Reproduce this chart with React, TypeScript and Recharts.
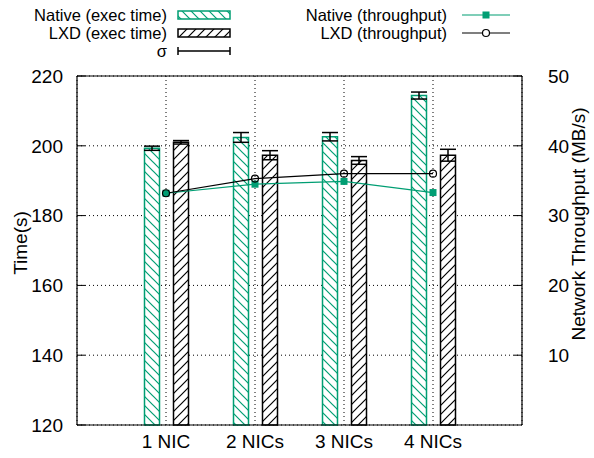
import React from "react";
import {
  ComposedChart,
  Bar,
  Line,
  XAxis,
  YAxis,
  CartesianGrid,
  ErrorBar,
  ReferenceLine,
} from "recharts";

const categories = ["1 NIC", "2 NICs", "3 NICs", "4 NICs"];
const nativeTime = [199.3, 202.4, 202.6, 214.4];
const nativeTimeErr = [0.6, 1.4, 1.2, 1.0];
const lxdTime = [201.0, 197.3, 195.8, 197.3];
const lxdTimeErr = [0.5, 1.3, 1.1, 1.7];
const nativeThroughput = [33.2, 34.5, 34.9, 33.3];
const lxdThroughput = [33.2, 35.3, 36.0, 36.0];

const timeTicks = [120, 140, 160, 180, 200, 220];
const throughputTicks = [10, 20, 30, 40, 50];

const GREEN = "#009E73";
const FONT = "'Liberation Sans', Arial, sans-serif";
const FS = 19;
const LEGEND_FS = 16.5;

const data = categories.map((name, i) => ({
  name,
  nativeTime: nativeTime[i],
  nativeTimeErr: nativeTimeErr[i],
  lxdTime: lxdTime[i],
  lxdTimeErr: lxdTimeErr[i],
  nativeTp: nativeThroughput[i],
  lxdTp: lxdThroughput[i],
}));

function Hatches({ prefix }: { prefix: string }) {
  return (
    <defs>
      <pattern id={prefix + "native"} width={9} height={9} patternUnits="userSpaceOnUse">
        <rect width={9} height={9} fill="#fff" />
        <path d="M0,0 L9,9 M-1,8 L1,10 M8,-1 L10,1" stroke={GREEN} strokeWidth={1.2} />
      </pattern>
      <pattern id={prefix + "lxd"} width={9} height={9} patternUnits="userSpaceOnUse">
        <rect width={9} height={9} fill="#fff" />
        <path d="M0,9 L9,0 M-1,1 L1,-1 M8,10 L10,8" stroke="#000" strokeWidth={1.2} />
      </pattern>
    </defs>
  );
}

const SquareDot = (props: any) => {
  const { cx, cy, index } = props;
  return <rect key={"s" + index} x={cx - 3.5} y={cy - 3.5} width={7} height={7} fill={GREEN} />;
};

const CircleDot = (props: any) => {
  const { cx, cy, index } = props;
  return <circle key={"c" + index} cx={cx} cy={cy} r={3.5} fill="none" stroke="#000" strokeWidth={1.2} />;
};

function Overlay() {
  const t = { fontFamily: FONT, fontSize: FS, fill: "#000" } as const;
  const lt = { fontFamily: FONT, fontSize: LEGEND_FS, fill: "#000" } as const;
  return (
    <svg
      width={594}
      height={458}
      style={{ position: "absolute", left: 0, top: 0, pointerEvents: "none" }}
    >
      <Hatches prefix="lg-" />
      <text x={167} y={15} textAnchor="end" dominantBaseline="central" {...lt}>
        Native (exec time)
      </text>
      <rect x={178} y={11} width={52} height={8} fill="url(#lg-native)" stroke={GREEN} strokeWidth={1.5} />
      <text x={167} y={33} textAnchor="end" dominantBaseline="central" {...lt}>
        LXD (exec time)
      </text>
      <rect x={178} y={29} width={52} height={8} fill="url(#lg-lxd)" stroke="#000" strokeWidth={1.5} />
      <text x={167} y={51} textAnchor="end" dominantBaseline="central" {...lt}>
        σ
      </text>
      <path d="M178,51 L230,51 M178,47 L178,55 M230,47 L230,55" stroke="#000" strokeWidth={1.5} />

      <text x={447} y={15} textAnchor="end" dominantBaseline="central" {...lt}>
        Native (throughput)
      </text>
      <line x1={462} y1={15} x2={510} y2={15} stroke={GREEN} strokeWidth={1.2} />
      <rect x={482.5} y={11.5} width={7} height={7} fill={GREEN} />
      <text x={447} y={33} textAnchor="end" dominantBaseline="central" {...lt}>
        LXD (throughput)
      </text>
      <line x1={462} y1={33} x2={510} y2={33} stroke="#000" strokeWidth={1.2} />
      <circle cx={486} cy={33} r={3.5} fill="#fff" stroke="#000" strokeWidth={1.2} />

      <text
        x={20}
        y={243}
        textAnchor="middle"
        dominantBaseline="central"
        transform="rotate(-90 20 243)"
        {...t}
      >
        Time(s)
      </text>
      <text
        x={578}
        y={224}
        textAnchor="middle"
        dominantBaseline="central"
        transform="rotate(-90 578 224)"
        {...t}
      >
        Network Throughput (MB/s)
      </text>
    </svg>
  );
}

export default function App() {
  const tick = { fontFamily: FONT, fontSize: FS, fill: "#000" };
  return (
    <div style={{ position: "absolute", left: 0, top: 0, width: 594, height: 458, background: "#fff" }}>
      <ComposedChart
        width={594}
        height={458}
        data={data}
        margin={{ top: 76, right: 0, bottom: 0, left: 0 }}
        barGap={14}
        barSize={15}
      >
        <Hatches prefix="ch-" />
        <CartesianGrid yAxisId="left" stroke="#000" strokeDasharray="1 3" strokeWidth={1} />
        <XAxis
          dataKey="name"
          height={33}
          padding={{ left: 44.5, right: 44.5 }}
          tickLine={false}
          tickMargin={4}
          axisLine={{ stroke: "#000", strokeWidth: 1.2 }}
          tick={tick}
          interval={0}
        />
        <YAxis
          yAxisId="left"
          orientation="left"
          width={77}
          domain={[120, 220]}
          ticks={timeTicks}
          tickSize={-8}
          tickMargin={22}
          tickLine={{ stroke: "#000" }}
          axisLine={{ stroke: "#000", strokeWidth: 1.2 }}
          tick={tick}
          interval={0}
        />
        <YAxis
          yAxisId="right"
          orientation="right"
          width={72}
          domain={[0, 50]}
          ticks={throughputTicks}
          tickSize={-8}
          tickMargin={34}
          tickLine={{ stroke: "#000" }}
          axisLine={{ stroke: "#000", strokeWidth: 1.2 }}
          tick={{ ...tick, textAnchor: "start" }}
          interval={0}
        />
        <ReferenceLine yAxisId="left" y={220} stroke="#000" strokeWidth={1.2} />
        <Bar
          yAxisId="left"
          dataKey="nativeTime"
          fill="url(#ch-native)"
          stroke={GREEN}
          strokeWidth={1.5}
          isAnimationActive={false}
        >
          <ErrorBar dataKey="nativeTimeErr" width={8} stroke="#000" strokeWidth={1.5} direction="y" />
        </Bar>
        <Bar
          yAxisId="left"
          dataKey="lxdTime"
          fill="url(#ch-lxd)"
          stroke="#000"
          strokeWidth={1.5}
          isAnimationActive={false}
        >
          <ErrorBar dataKey="lxdTimeErr" width={8} stroke="#000" strokeWidth={1.5} direction="y" />
        </Bar>
        <Line
          yAxisId="right"
          dataKey="nativeTp"
          stroke={GREEN}
          strokeWidth={1.2}
          dot={SquareDot}
          activeDot={false}
          isAnimationActive={false}
        />
        <Line
          yAxisId="right"
          dataKey="lxdTp"
          stroke="#000"
          strokeWidth={1.2}
          dot={CircleDot}
          activeDot={false}
          isAnimationActive={false}
        />
      </ComposedChart>
      <Overlay />
    </div>
  );
}
